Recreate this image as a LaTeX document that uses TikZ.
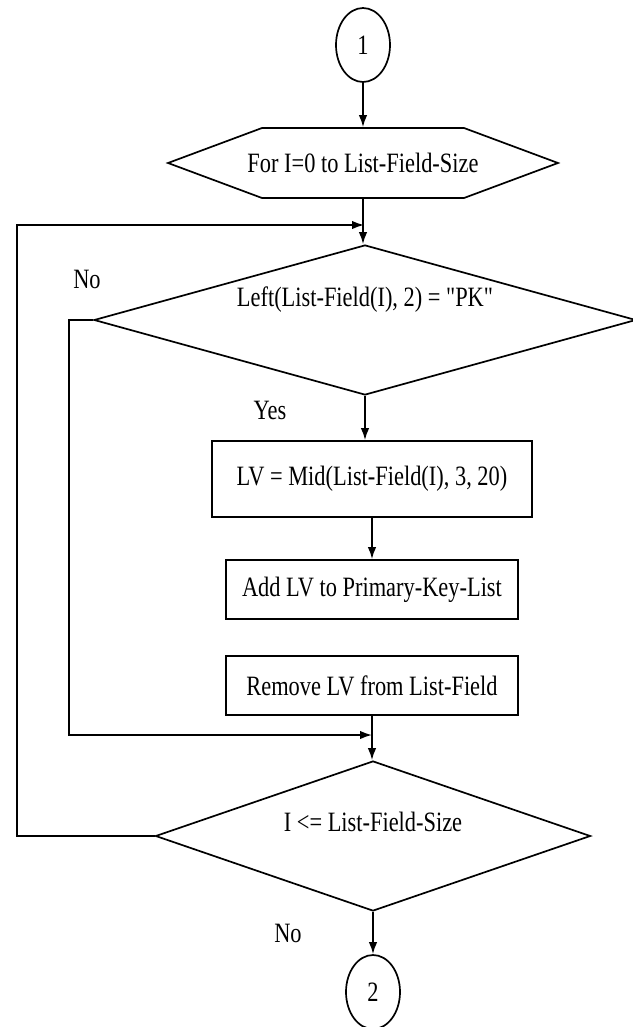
\documentclass[tikz,border=0pt]{standalone}
\usepackage{fontspec}
\setmainfont{Liberation Serif}[FakeStretch=0.8, Ligatures=TeXOff]
\usetikzlibrary{shapes.geometric,arrows.meta,calc}
\begin{document}
\begin{tikzpicture}[x=1pt,y=-1pt,
  line width=1.7pt,
  every node/.style={font=\fontsize{28}{33}\selectfont, inner sep=0pt},
  arr/.style={-{Latex[length=12pt,width=8.5pt]}},
  connector/.style={draw, ellipse, minimum width=54pt, minimum height=74pt},
  decision/.style={draw, diamond, minimum height=150pt},
  process/.style={draw, rectangle},
  hexbox/.style={rectangle, minimum width=202pt, minimum height=70pt}
]
\useasboundingbox (0,0) rectangle (632,1027);

% off-page connector and loop header
\node[connector] (c1) at (363,45) {1};
\node[hexbox] (hex) at (363,163) {For I=0 to List-Field-Size};
\draw ($(hex)+(-101,-35)$) -- ($(hex)+(101,-35)$) -- ($(hex)+(195,0)$)
  -- ($(hex)+(101,35)$) -- ($(hex)+(-101,35)$) -- ($(hex)+(-195,0)$) -- cycle;

% first decision
\node[decision, minimum width=542pt] (d1) at (365,320) {};
\node (d1t) at ($(d1)+(0,-20)$) {Left(List-Field(I), 2) = "PK"};

% processing steps
\node[process, minimum width=320pt, minimum height=76pt] (b1) at (372,479) {LV = Mid(List-Field(I), 3, 20)};
\node[process, minimum width=292pt, minimum height=59pt] (b2) at (372,589.5) {Add LV to Primary-Key-List};
\node[process, minimum width=292pt, minimum height=59pt] (b3) at (372,685.5) {Remove LV from List-Field};

% loop test and exit connector
\node[decision, minimum width=435pt] (d2) at (373,836) {};
\node (d2t) at ($(d2)+(0,-14)$) {I <= List-Field-Size};
\node[connector] (c2) at (373,992) {2};

% branch labels
\node (no1) at (87,279) {No};
\node (yes1) at (270,410) {Yes};
\node (no2) at (288,933) {No};

% junction points and loop rails
\coordinate (j1) at (364,225);
\coordinate (j2) at (372,735);
\coordinate (ol) at (17,0);
\coordinate (il) at (69,0);

% connectors
\draw[arr] (c1.south) -- (c1.south |- hex.north);
\draw[arr] (hex.south) -- (hex.south |- d1.north);
\draw[arr] (d1.south) -- (d1.south |- b1.north);
\draw[arr] (b1.south) -- (b1.south |- b2.north);
\draw[arr] (b3.south) -- (b3.south |- d2.north);
\draw[arr] (d2.south) -- (c2.north);
\draw[arr] (d1.west) -- (d1.west -| il) |- (j2);
\draw[arr] (d2.west) -- (d2.west -| ol) |- (j1);
\end{tikzpicture}
\end{document}
